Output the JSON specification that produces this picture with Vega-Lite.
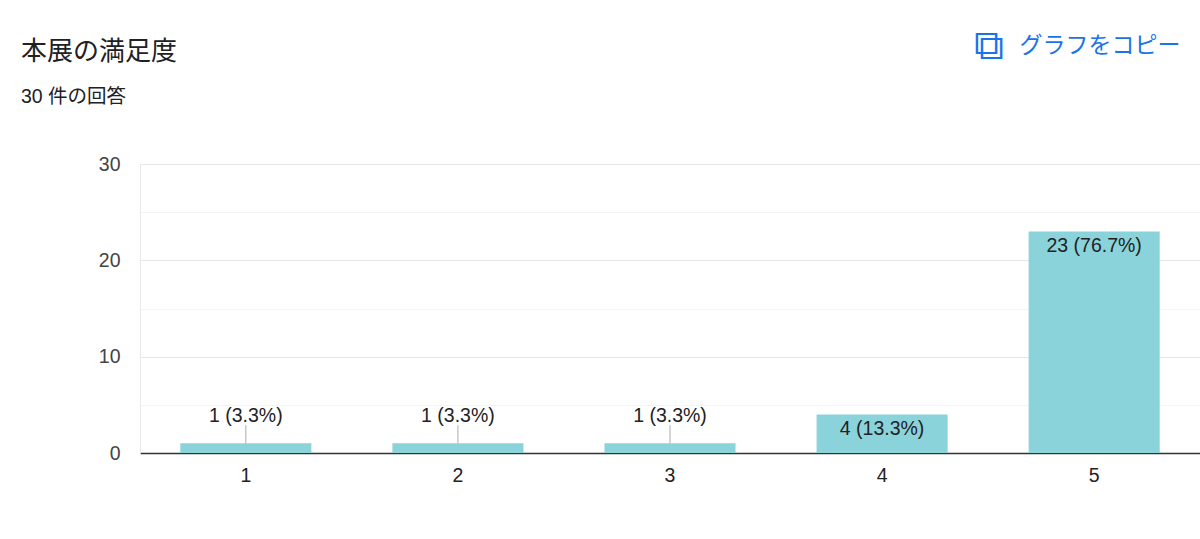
{
  "$schema": "https://vega.github.io/schema/vega-lite/v6.json",
  "description": "Google Forms style bar chart: 本展の満足度 (30 responses)",
  "autosize": "none",
  "padding": {"left": 140, "top": 164, "right": 0, "bottom": 86},
  "width": 1060,
  "height": 289,
  "background": "white",
  "config": {
    "view": {"stroke": null},
    "font": "Liberation Sans, Noto Sans CJK JP, sans-serif"
  },
  "title": {
    "text": "本展の満足度",
    "subtitle": "30 件の回答",
    "anchor": "start",
    "frame": "group",
    "dx": -119,
    "offset": -82,
    "font": "Noto Sans CJK JP, sans-serif",
    "fontSize": 26,
    "fontWeight": "normal",
    "color": "#202124",
    "subtitleFont": "Liberation Sans, Noto Sans CJK JP, sans-serif",
    "subtitleFontSize": 19.5,
    "subtitleColor": "#202124",
    "subtitlePadding": 23
  },
  "data": {
    "values": [
      {"rating": "1", "count": 1, "label": "1 (3.3%)"},
      {"rating": "2", "count": 1, "label": "1 (3.3%)"},
      {"rating": "3", "count": 1, "label": "1 (3.3%)"},
      {"rating": "4", "count": 4, "label": "4 (13.3%)"},
      {"rating": "5", "count": 23, "label": "23 (76.7%)"}
    ]
  },
  "encoding": {
    "x": {
      "field": "rating",
      "type": "nominal",
      "sort": null,
      "scale": {"paddingInner": 0.382, "paddingOuter": 0.19}
    }
  },
  "layer": [
    {
      "mark": {"type": "bar", "color": "#8ad3db"},
      "encoding": {
        "x": {
          "field": "rating",
          "type": "nominal",
          "sort": null,
          "axis": {
            "title": "グラフをコピー",
            "titleFont": "Noto Sans CJK JP, sans-serif",
            "titleFontSize": 23,
            "titleFontWeight": "normal",
            "titleColor": "#1a73e8",
            "titleAlign": "right",
            "titleAnchor": "end",
            "titleBaseline": "middle",
            "titleX": 1040,
            "titleY": -408,
            "labelAngle": 0,
            "labelFontSize": 19.5,
            "labelColor": "#222222",
            "labelPadding": 13,
            "ticks": false,
            "domainColor": "#333333",
            "domainWidth": 1.5,
            "grid": false
          }
        },
        "y": {
          "field": "count",
          "type": "quantitative",
          "scale": {"domain": [0, 30], "nice": false},
          "axis": {
            "title": "⧉",
            "titleFont": "DejaVu Sans",
            "titleFontSize": 42,
            "titleFontWeight": "normal",
            "titleColor": "#1a73e8",
            "titleAngle": 0,
            "titleAlign": "center",
            "titleBaseline": "middle",
            "titleX": 848,
            "titleY": -119,
            "values": [0, 5, 10, 15, 20, 25, 30],
            "labelExpr": "datum.value % 10 === 0 ? datum.label : ''",
            "labelFontSize": 19.5,
            "labelColor": "#444444",
            "labelPadding": 20,
            "ticks": false,
            "domain": true,
            "domainColor": "#e8e8e8",
            "gridColor": {
              "condition": {"test": "datum.value % 10 === 0", "value": "#e6e6e6"},
              "value": "#f4f4f4"
            }
          }
        }
      }
    },
    {
      "transform": [{"filter": "datum.count < 4"}],
      "mark": {
        "type": "tick",
        "orient": "vertical",
        "size": 18,
        "thickness": 1,
        "color": "#888888",
        "yOffset": -9
      },
      "encoding": {
        "y": {"field": "count", "type": "quantitative"}
      }
    },
    {
      "transform": [{"filter": "datum.count < 4"}],
      "mark": {
        "type": "text",
        "fontSize": 19.5,
        "color": "#222222",
        "baseline": "middle",
        "dy": -27
      },
      "encoding": {
        "y": {"field": "count", "type": "quantitative"},
        "text": {"field": "label"}
      }
    },
    {
      "transform": [{"filter": "datum.count >= 4"}],
      "mark": {
        "type": "text",
        "fontSize": 19.5,
        "color": "#222222",
        "baseline": "middle",
        "dy": 15
      },
      "encoding": {
        "y": {"field": "count", "type": "quantitative"},
        "text": {"field": "label"}
      }
    }
  ]
}
